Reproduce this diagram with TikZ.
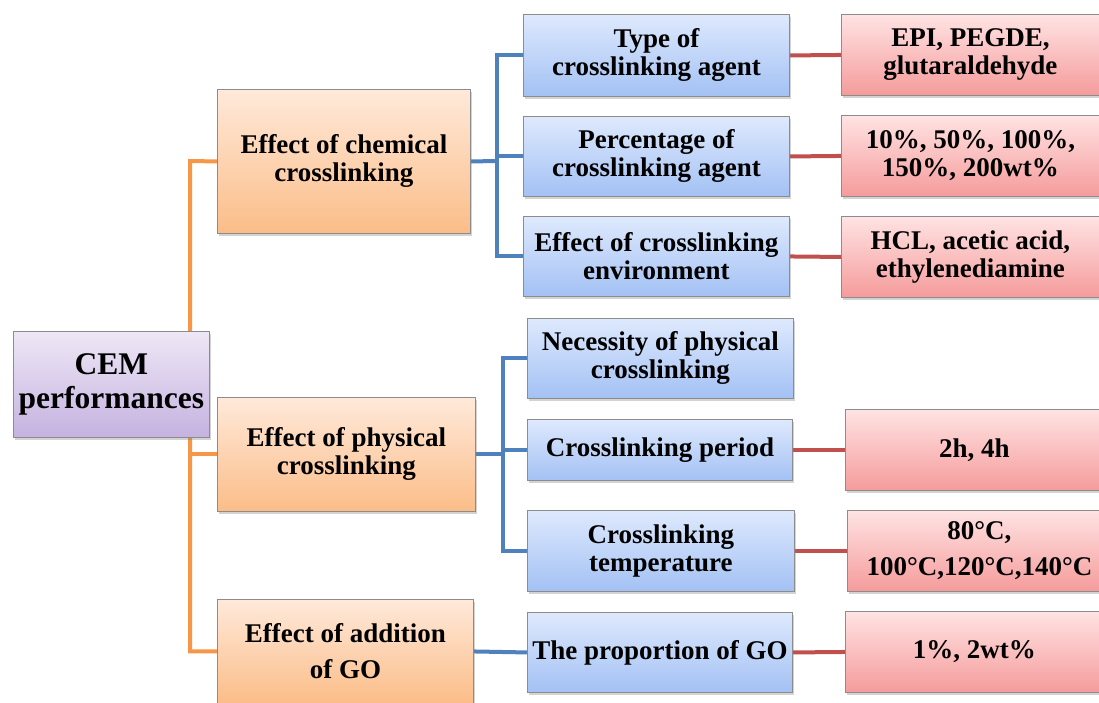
\documentclass[tikz,border=0pt]{standalone}
\usepackage{fontspec}
\setmainfont{Liberation Serif}
\usetikzlibrary{shadows}
\pgfdeclarelayer{bg}
\pgfsetlayers{bg,main}
\definecolor{oline}{HTML}{F79646}
\definecolor{bline}{HTML}{4F81BD}
\definecolor{rline}{HTML}{C0504D}
\definecolor{ptop}{HTML}{EEE7F6}
\definecolor{pbot}{HTML}{C5B2E0}
\definecolor{otop}{HTML}{FFE9DA}
\definecolor{obot}{HTML}{FBBD88}
\definecolor{btop}{HTML}{DEE9FD}
\definecolor{bbot}{HTML}{A3C1F4}
\definecolor{rtop}{HTML}{FFE3E3}
\definecolor{rbot}{HTML}{F59B9B}
\definecolor{bord}{HTML}{8C8C8C}
\tikzset{
  boxbase/.style={draw=bord, line width=0.9pt, anchor=north west, inner sep=0pt, align=center,
    font=\fontsize{27}{28}\selectfont\bfseries,
    drop shadow={opacity=0.35, shadow xshift=2pt, shadow yshift=-2.5pt}},
  pbox/.style={boxbase, top color=ptop, bottom color=pbot, font=\fontsize{31.5}{34}\selectfont\bfseries},
  obox/.style={boxbase, top color=otop, bottom color=obot},
  bbox/.style={boxbase, top color=btop, bottom color=bbot},
  rbox/.style={boxbase, top color=rtop, bottom color=rbot},
  conn/.style={line width=4pt},
}
\begin{document}
\begin{tikzpicture}[x=1pt,y=-1pt]
\useasboundingbox (0,0) rectangle (1099,702);
\clip (0,0) rectangle (1099,702);
% level 0
\node[pbox, minimum width=196pt, minimum height=106pt] (cem) at (13,331) {CEM\\performances};
% level 1
\node[obox, minimum width=253pt, minimum height=144pt] (chem) at (217,89) {Effect of chemical\\crosslinking};
\node[obox, minimum width=258pt, minimum height=114pt] (phys) at (217,397) {Effect of physical\\crosslinking};
\node[obox, minimum width=256pt, minimum height=104pt, font=\fontsize{27}{36}\selectfont\bfseries] (go) at (217,599) {Effect of addition\\of GO};
% level 2
\node[bbox, minimum width=266pt, minimum height=82pt] (type) at (523,14) {Type of\\crosslinking agent};
\node[bbox, minimum width=266pt, minimum height=80pt] (pct) at (523,116) {Percentage of\\crosslinking agent};
\node[bbox, minimum width=266pt, minimum height=80pt] (env) at (523,216) {Effect of crosslinking\\environment};
\node[bbox, minimum width=266pt, minimum height=80pt] (nec) at (527,318) {Necessity of physical\\crosslinking};
\node[bbox, minimum width=265pt, minimum height=61pt] (per) at (527,419) {Crosslinking period};
\node[bbox, minimum width=267pt, minimum height=81pt] (tmp) at (527,510) {Crosslinking\\temperature};
\node[bbox, minimum width=265pt, minimum height=80pt] (prop) at (527,612) {The proportion of GO};
% level 3
\node[rbox, minimum width=258pt, minimum height=81pt] (epi) at (841,14) {EPI, PEGDE,\\glutaraldehyde};
\node[rbox, minimum width=258pt, minimum height=81pt] (ten) at (841,115) {10\%, 50\%, 100\%,\\150\%, 200wt\%};
\node[rbox, minimum width=258pt, minimum height=81pt] (hcl) at (841,216) {HCL, acetic acid,\\ethylenediamine};
\node[rbox, minimum width=258pt, minimum height=81pt] (hrs) at (845,409) {2h, 4h};
\node[rbox, minimum width=264pt, minimum height=81pt, font=\fontsize{27}{36}\selectfont\bfseries] (deg) at (847,510) {80°C,\\100°C,120°C,140°C};
\node[rbox, minimum width=258pt, minimum height=81pt] (pgo) at (845,611) {1\%, 2wt\%};
\coordinate (oj) at (190,161);
\coordinate (bj1) at (497,161);
\coordinate (bj2) at (503,455);
\begin{pgfonlayer}{bg}
\draw[conn, oline] (chem.west) -- (oj) |- (go.west);
\draw[conn, oline] (phys.west) -- (phys.west -| oj);
\draw[conn, bline] (chem.east) -- (bj1);
\draw[conn, bline] (type.west) -| (bj1) |- (env.west);
\draw[conn, bline] (pct.west) -- (pct.west -| bj1);
\draw[conn, bline] (phys.east) -- (phys.east -| bj2);
\draw[conn, bline] (nec.west) -| (bj2) |- (tmp.west);
\draw[conn, bline] (per.west) -- (per.west -| bj2);
\draw[conn, bline] (go.east) -- (prop.west);
\draw[conn, rline] (type.east) -- (epi.west);
\draw[conn, rline] (pct.east) -- (ten.west);
\draw[conn, rline] (env.east) -- (hcl.west);
\draw[conn, rline] (per.east) -- (hrs.west);
\draw[conn, rline] (tmp.east) -- (deg.west);
\draw[conn, rline] (prop.east) -- (pgo.west);
\end{pgfonlayer}
\end{tikzpicture}
\end{document}
